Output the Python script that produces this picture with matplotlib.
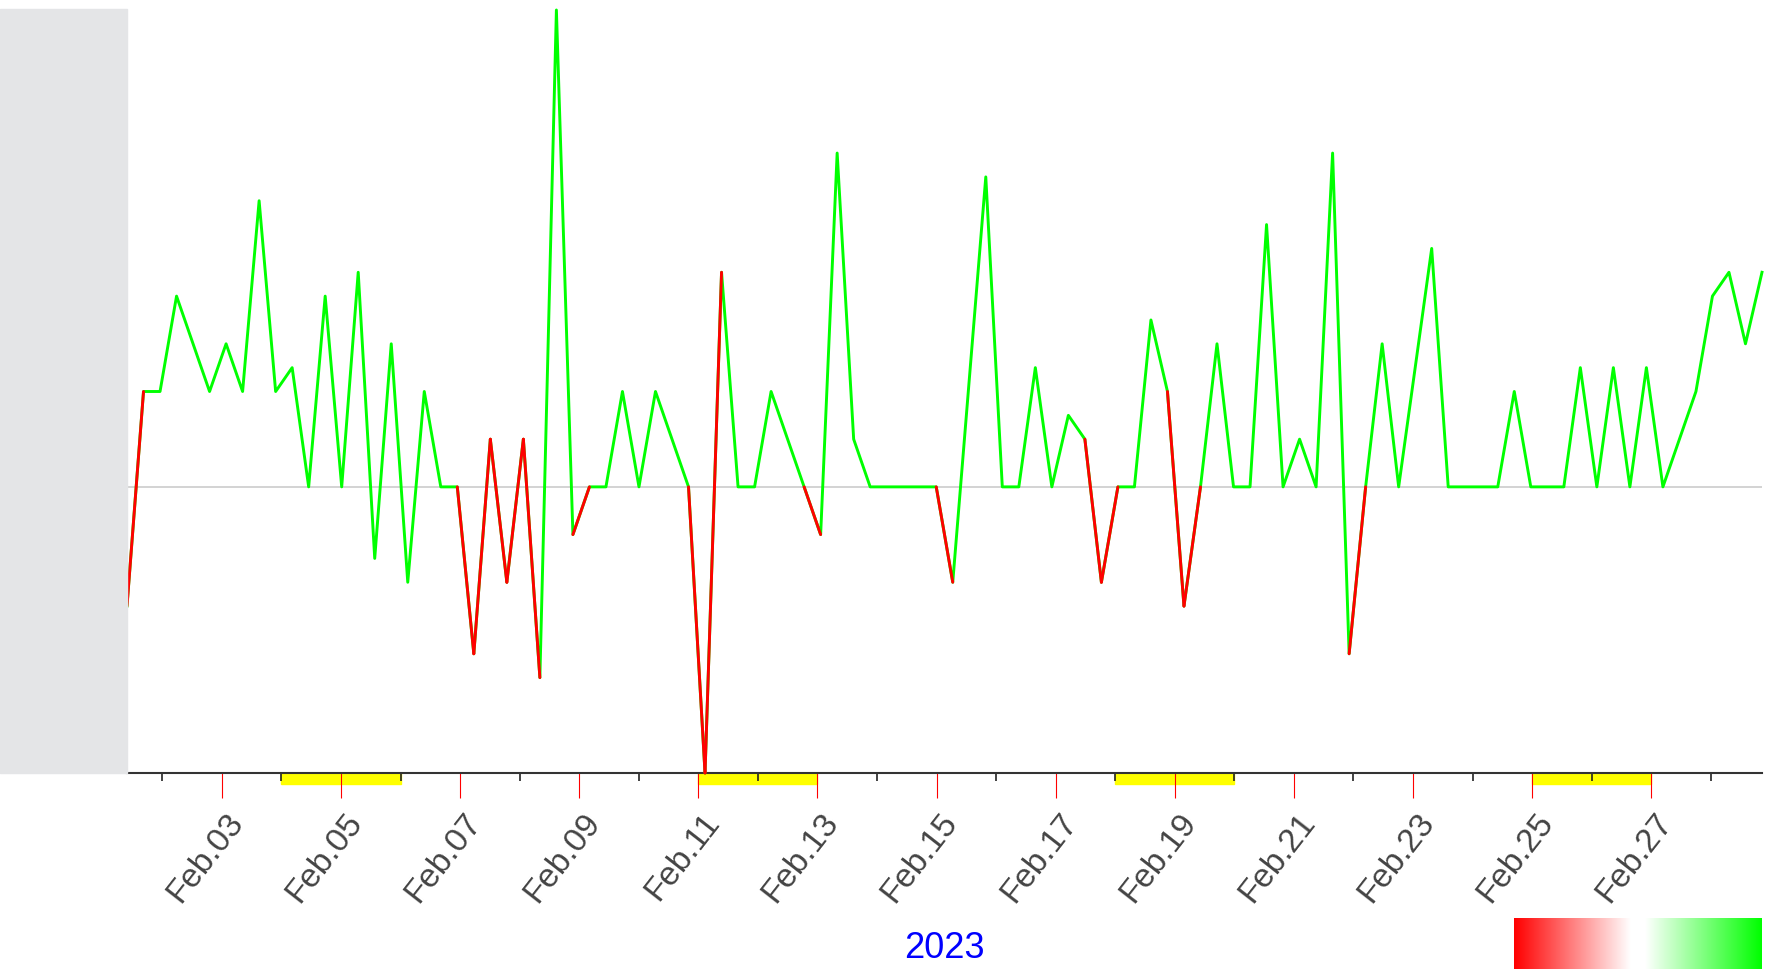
import matplotlib
matplotlib.use("Agg")
import matplotlib.pyplot as plt
import matplotlib.dates as mdates
import matplotlib.transforms as mtransforms
from matplotlib.collections import LineCollection
from matplotlib.colors import LinearSegmentedColormap
from matplotlib.patches import Rectangle
import numpy as np
import pandas as pd

plt.rcParams['font.family'] = ['Liberation Sans', 'DejaVu Sans']

# series (one value per sample)
values = [-5, 4, 4, 8, 6, 4, 6, 4, 12, 4, 5, 0, 8, 0, 9, -3, 6, -4, 4, 0,
          0, -7, 2, -4, 2, -8, 20, -2, 0, 0, 4, 0, 4, 2, 0, -12, 9, 0, 0, 4,
          2, 0, -2, 14, 2, 0, 0, 0, 0, 0, -4, 4.5, 13, 0, 0, 5, 0, 3, 2, -4,
          0, 0, 7, 4, -5, 0, 6, 0, 0, 11, 0, 2, 0, 14, -7, 0, 6, 0, 5, 10,
          0, 0, 0, 0, 4, 0, 0, 0, 5, 0, 5, 0, 5, 0, 2, 4, 8, 9, 6, 9]
# segments (i -> i+1) drawn in red, the rest green
red_segments = [0, 20, 21, 22, 23, 24, 27, 34, 35, 41, 49, 58, 59, 63, 64, 74]
t_start = "2023-02-01 09:45"
t_end = "2023-02-28 20:40"
weekends = ["2023-02-04", "2023-02-11", "2023-02-18", "2023-02-25"]
year_label = "2023"

times = pd.date_range(t_start, t_end, periods=len(values))
x = mdates.date2num(times.to_pydatetime())
y = np.array(values, dtype=float)

W, H = 1780, 969
fig = plt.figure(figsize=(W / 100, H / 100), dpi=100)

# grey panel on the left
fig.patches.append(Rectangle((0, 1 - 773 / H), 127 / W, 764 / H,
                             transform=fig.transFigure, color='#e4e5e7', zorder=0))

ax = fig.add_axes([127 / W, 1 - 773 / H, 1635 / W, 763 / H])
ax.set_xlim(x[0], x[-1])
ax.set_ylim(-12, 20)

ax.axhline(0, color='#c8c8c8', lw=1.1, zorder=1)
ax.plot(x, y, color='#00ff00', lw=2.1, solid_joinstyle='round', clip_on=False, zorder=3)
segs = [[(x[i], y[i]), (x[i + 1], y[i + 1])] for i in red_segments]
ax.add_collection(LineCollection(segs, colors='#ff0000', linewidths=2.1,
                                 capstyle='round', clip_on=False, zorder=4))

# weekend markers under the axis
bar_h = 11 / 763
for w in weekends:
    d0 = mdates.date2num(pd.Timestamp(w))
    ax.add_patch(Rectangle((d0, -bar_h), 2, bar_h, transform=ax.get_xaxis_transform(),
                           color='#ffff00', clip_on=False, zorder=1))

for s in ['left', 'top', 'right']:
    ax.spines[s].set_visible(False)
ax.spines['bottom'].set_color('#333333')
ax.spines['bottom'].set_linewidth(1.5)
ax.set_yticks([])

ax.xaxis.set_major_locator(mdates.DayLocator(bymonthday=list(range(3, 28, 2))))
ax.xaxis.set_minor_locator(mdates.DayLocator(bymonthday=list(range(2, 29, 2))))
ax.xaxis.set_major_formatter(mdates.DateFormatter('%b.%d'))
ax.tick_params(axis='x', which='major', length=18, width=0.8, color='#ff0000',
               pad=7, labelsize=24, labelcolor='#444444', labelrotation=52)
ax.tick_params(axis='x', which='minor', length=6, width=1.2, color='#222222')
offset = mtransforms.ScaledTranslation(0.03, 0.0, fig.dpi_scale_trans)
for lab in ax.get_xticklabels():
    lab.set_ha('right')
    lab.set_va('top')
    lab.set_rotation_mode('anchor')
    lab.set_transform(lab.get_transform() + offset)

fig.text(944 / W, 1 - 958 / H, year_label, color='#0000ff', fontsize=26,
         ha='center', va='baseline')

# colour key bottom right
cax = fig.add_axes([1514 / W, 0, 248 / W, 51 / H])
cmap = LinearSegmentedColormap.from_list(
    'rg', [(0, '#ff0000'), (0.47, '#ffffff'), (0.53, '#ffffff'), (1, '#00ff00')])
cax.imshow(np.linspace(0, 1, 256)[None, :], aspect='auto', cmap=cmap)
cax.axis('off')

fig.savefig('out.png', dpi=100)
